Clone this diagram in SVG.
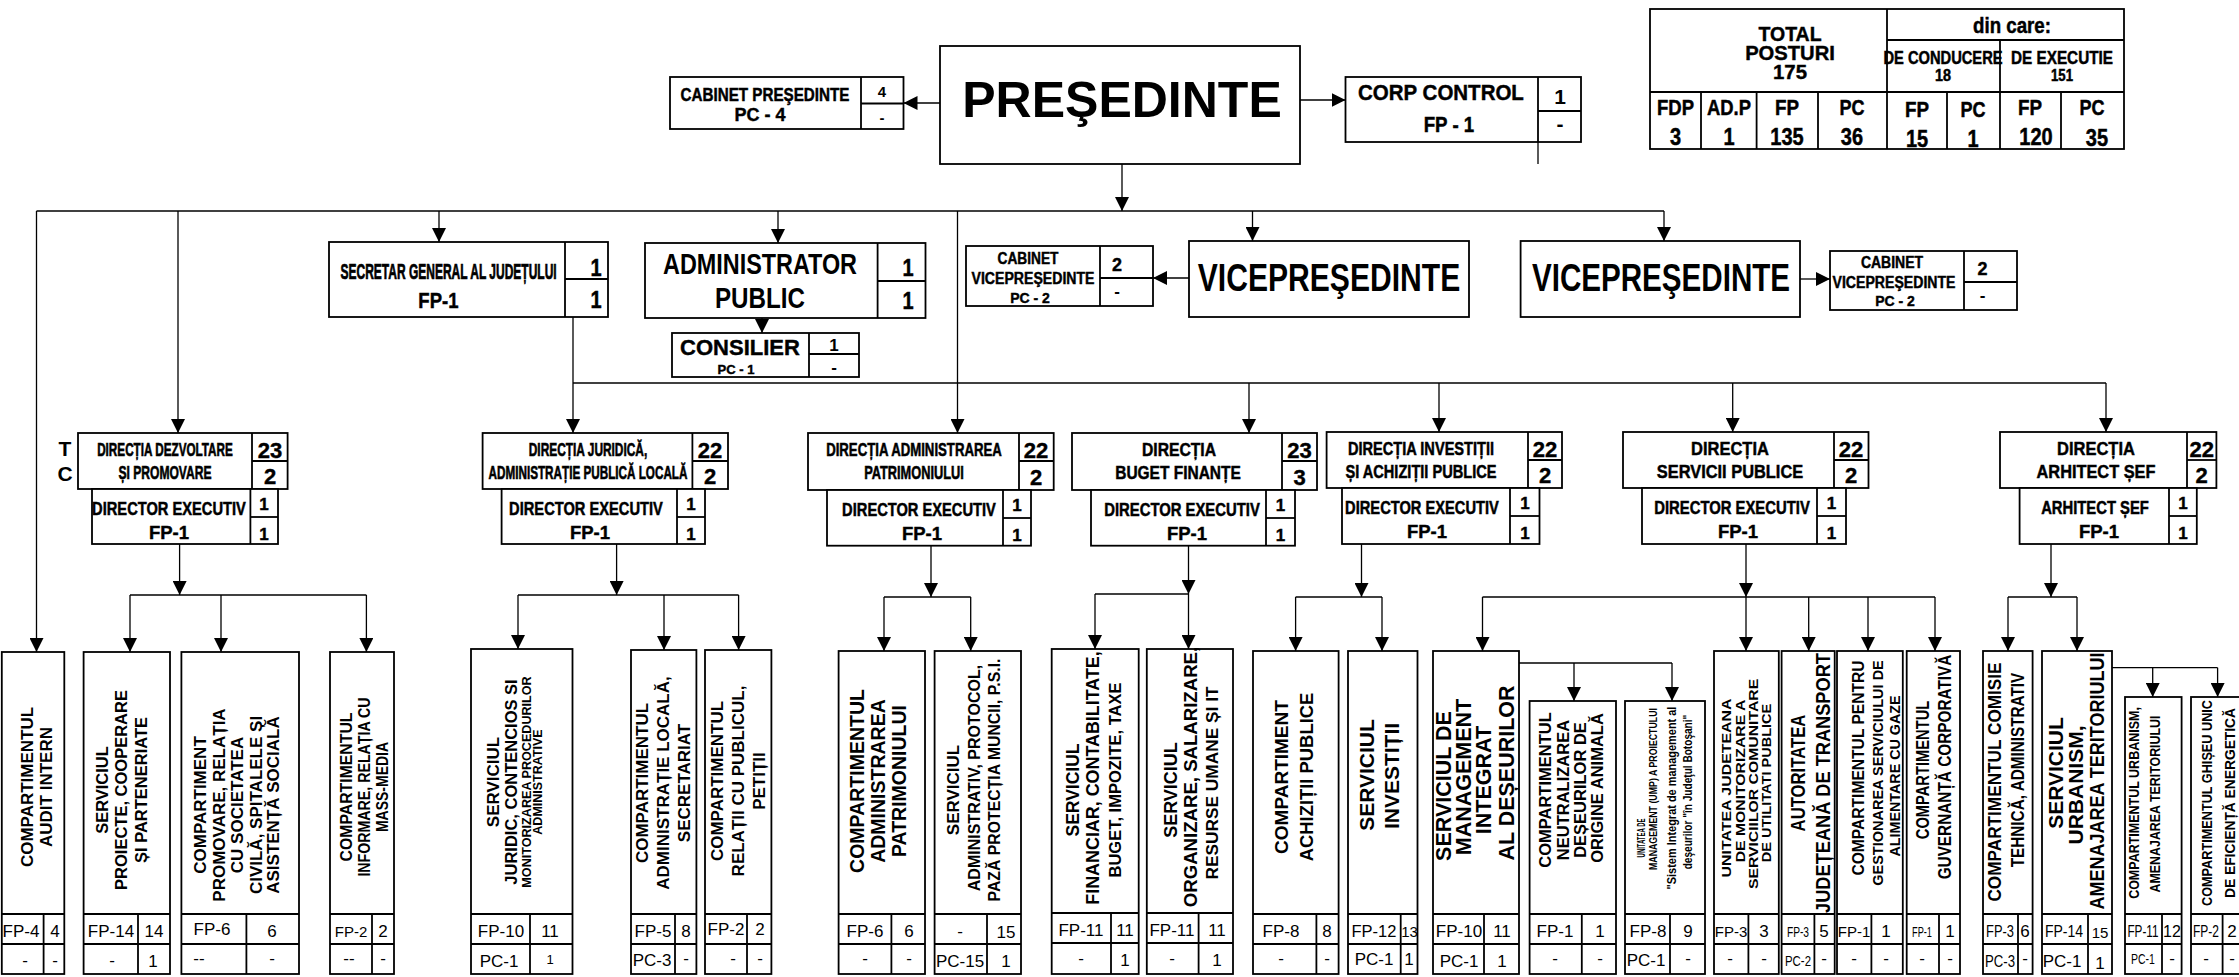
<svg xmlns="http://www.w3.org/2000/svg" width="2239" height="977" viewBox="0 0 2239 977" font-size="17">
<defs>
<marker id="ah" markerWidth="14" markerHeight="14" refX="14" refY="7" orient="auto" markerUnits="userSpaceOnUse"><path d="M0,0 L14,7 L0,14 z" fill="#000"/></marker>
<style>
.bx{fill:#fff;stroke:#000;stroke-width:1.8}
.ln{stroke:#000;stroke-width:1.8;fill:none}
.c{stroke:#000;stroke-width:1.3;fill:none}
.ca{stroke:#000;stroke-width:1.3;fill:none;marker-end:url(#ah)}
text{font-family:"Liberation Sans",Arial,sans-serif;fill:#000}
.b{font-weight:bold;text-anchor:middle}
.m{text-anchor:middle}
.k{stroke:#000;stroke-width:0.4}
.v{text-anchor:middle}
</style>
</defs>
<rect width="2239" height="977" fill="#fff"/>

<g id="connectors">
<line class="ca" x1="940" y1="103" x2="903.5" y2="103"/>
<line class="ca" x1="1300" y1="100" x2="1345.5" y2="100"/>
<line class="c" x1="1538" y1="142" x2="1538" y2="164"/>
<line class="ca" x1="1122" y1="164" x2="1122" y2="211"/>
<line class="c" x1="36.5" y1="211" x2="1664" y2="211"/>
<line class="ca" x1="36.5" y1="211" x2="36.5" y2="652"/>
<line class="ca" x1="178" y1="211" x2="178" y2="433"/>
<line class="ca" x1="439" y1="211" x2="439" y2="242"/>
<line class="ca" x1="778" y1="211" x2="778" y2="243"/>
<line class="ca" x1="957.5" y1="211" x2="957.5" y2="433"/>
<line class="ca" x1="1252.5" y1="211" x2="1252.5" y2="241"/>
<line class="ca" x1="1664" y1="211" x2="1664" y2="241"/>
<line class="ca" x1="1189" y1="278" x2="1153" y2="278"/>
<line class="ca" x1="1800" y1="279" x2="1830" y2="279"/>
<line class="ca" x1="762" y1="318" x2="762" y2="333"/>
<line class="ca" x1="573" y1="317" x2="573" y2="433"/>
<line class="c" x1="573" y1="383" x2="2106" y2="383"/>
<line class="ca" x1="1249" y1="383" x2="1249" y2="433"/>
<line class="ca" x1="1439" y1="383" x2="1439" y2="432"/>
<line class="ca" x1="1732.7" y1="383" x2="1732.7" y2="432"/>
<line class="ca" x1="2106" y1="383" x2="2106" y2="432"/>

<line class="ca" x1="179.6" y1="544" x2="179.6" y2="595"/>
<line class="c" x1="130" y1="595" x2="366.4" y2="595"/>
<line class="ca" x1="130" y1="595" x2="130" y2="652"/>
<line class="ca" x1="221" y1="595" x2="221" y2="652"/>
<line class="ca" x1="366.4" y1="595" x2="366.4" y2="652"/>

<line class="ca" x1="616.6" y1="544" x2="616.6" y2="595"/>
<line class="c" x1="518" y1="595" x2="738.6" y2="595"/>
<line class="ca" x1="518" y1="595" x2="518" y2="649"/>
<line class="ca" x1="664" y1="595" x2="664" y2="650"/>
<line class="ca" x1="738.6" y1="595" x2="738.6" y2="650"/>

<line class="ca" x1="931" y1="545.7" x2="931" y2="597"/>
<line class="c" x1="884" y1="597" x2="970.7" y2="597"/>
<line class="ca" x1="884" y1="597" x2="884" y2="651"/>
<line class="ca" x1="970.7" y1="597" x2="970.7" y2="651"/>

<line class="ca" x1="1188.5" y1="545.7" x2="1188.5" y2="594"/>
<line class="c" x1="1095" y1="594" x2="1188.5" y2="594"/>
<line class="ca" x1="1095" y1="594" x2="1095" y2="649"/>
<line class="ca" x1="1188.5" y1="594" x2="1188.5" y2="649"/>

<line class="ca" x1="1361.5" y1="544" x2="1361.5" y2="597"/>
<line class="c" x1="1295.6" y1="597" x2="1382" y2="597"/>
<line class="ca" x1="1295.6" y1="597" x2="1295.6" y2="651"/>
<line class="ca" x1="1382" y1="597" x2="1382" y2="651"/>

<line class="ca" x1="1746" y1="544" x2="1746" y2="597"/>
<line class="c" x1="1482.5" y1="597" x2="1935" y2="597"/>
<line class="ca" x1="1482.5" y1="597" x2="1482.5" y2="651"/>
<line class="ca" x1="1746" y1="597" x2="1746" y2="651"/>
<line class="ca" x1="1808.7" y1="597" x2="1808.7" y2="651"/>
<line class="ca" x1="1868" y1="597" x2="1868" y2="651"/>
<line class="ca" x1="1935" y1="597" x2="1935" y2="651"/>
<line class="c" x1="1519" y1="663" x2="1672" y2="663"/>
<line class="ca" x1="1574" y1="663" x2="1574" y2="701"/>
<line class="ca" x1="1672" y1="663" x2="1672" y2="701"/>

<line class="ca" x1="2051" y1="544" x2="2051" y2="597"/>
<line class="c" x1="2008" y1="597" x2="2077" y2="597"/>
<line class="ca" x1="2008" y1="597" x2="2008" y2="651"/>
<line class="ca" x1="2077" y1="597" x2="2077" y2="651"/>
<line class="c" x1="2112" y1="667.7" x2="2217.6" y2="667.7"/>
<line class="ca" x1="2152.7" y1="667.7" x2="2152.7" y2="697"/>
<line class="ca" x1="2217.6" y1="667.7" x2="2217.6" y2="697"/>
</g>

<g id="presedinte">
<rect class="bx" x="940" y="46" width="360" height="118"/>
<text class="b" x="1122" y="117" font-size="50">PREŞEDINTE</text>
</g>

<g id="cabinet-presedinte">
<rect class="bx" x="670" y="77" width="233.5" height="52"/>
<line class="ln" x1="861" y1="77" x2="861" y2="129"/>
<line class="ln" x1="861" y1="103.5" x2="903.5" y2="103.5"/>
<text class="b k" x="765" y="101" font-size="15.2" transform="matrix(1,0,0,1.25,0,-25.25)">CABINET PREŞEDINTE</text>
<text class="b k" x="760" y="121" font-size="18">PC - 4</text>
<text class="b" x="882" y="97" font-size="15">4</text>
<text class="b" x="882" y="123" font-size="15">-</text>
</g>

<g id="corp-control">
<rect class="bx" x="1345.5" y="77" width="235.5" height="65"/>
<line class="ln" x1="1538" y1="77" x2="1538" y2="142"/>
<line class="ln" x1="1538" y1="111" x2="1581" y2="111"/>
<text class="b k" x="1441" y="100" font-size="20.5" transform="matrix(1,0,0,1.073,0,-7.3)">CORP CONTROL</text>
<text class="b k" x="1449" y="132" font-size="18.7" transform="matrix(1,0,0,1.176,0,-23.23)">FP - 1</text>
<text class="b" x="1560" y="104" font-size="21">1</text>
<text class="b" x="1560" y="131" font-size="21">-</text>
</g>

<g id="total-posturi">
<rect class="bx" x="1650" y="9" width="474" height="140"/>
<line class="ln" x1="1887" y1="9" x2="1887" y2="149"/>
<line class="ln" x1="1887" y1="40" x2="2124" y2="40"/>
<line class="ln" x1="1650" y1="92" x2="2124" y2="92"/>
<line class="ln" x1="2000" y1="40" x2="2000" y2="149"/>
<line class="ln" x1="1701" y1="92" x2="1701" y2="149"/>
<line class="ln" x1="1756.6" y1="92" x2="1756.6" y2="149"/>
<line class="ln" x1="1818" y1="92" x2="1818" y2="149"/>
<line class="ln" x1="1947" y1="92" x2="1947" y2="149"/>
<line class="ln" x1="2061" y1="92" x2="2061" y2="149"/>
<text class="b k" x="1790" y="41" font-size="19.5" transform="matrix(1,0,0,1.077,0,-3.16)">TOTAL</text>
<text class="b k" x="1790" y="60" font-size="20.2" transform="matrix(1,0,0,1.04,0,-2.4)">POSTURI</text>
<text class="b k" x="1790" y="79" font-size="20.4">175</text>
<text class="b k" x="2012" y="33" font-size="18.7" transform="matrix(1,0,0,1.176,0,-5.81)">din care:</text>
<text class="b k" x="1943" y="64" font-size="14.7" transform="matrix(1,0,0,1.225,0,-14.4)">DE CONDUCERE</text>
<text class="b k" x="1943" y="81" font-size="14.4" transform="matrix(1,0,0,1.18,0,-14.58)">18</text>
<text class="b k" x="2062" y="64" font-size="15.3" transform="matrix(1,0,0,1.176,0,-11.26)">DE EXECUTIE</text>
<text class="b k" x="2062" y="81" font-size="13.2" transform="matrix(1,0,0,1.29,0,-23.49)">151</text>
<text class="b k" x="1675.5" y="115" font-size="18.5" transform="matrix(1,0,0,1.19,0,-21.85)">FDP</text>
<text class="b k" x="1729" y="115" font-size="18.4" transform="matrix(1,0,0,1.19,0,-21.85)">AD.P</text>
<text class="b k" x="1787" y="115" font-size="18.8" transform="matrix(1,0,0,1.19,0,-21.85)">FP</text>
<text class="b k" x="1852" y="115" font-size="18" transform="matrix(1,0,0,1.19,0,-21.85)">PC</text>
<text class="b k" x="1917" y="117" font-size="18.8" transform="matrix(1,0,0,1.19,0,-22.23)">FP</text>
<text class="b k" x="1973" y="117" font-size="18" transform="matrix(1,0,0,1.19,0,-22.23)">PC</text>
<text class="b k" x="2030" y="115" font-size="18.8" transform="matrix(1,0,0,1.19,0,-21.85)">FP</text>
<text class="b k" x="2092" y="115" font-size="18" transform="matrix(1,0,0,1.19,0,-21.85)">PC</text>
<text class="b k" x="1675.5" y="145" font-size="20" transform="matrix(1,0,0,1.2,0,-29)">3</text>
<text class="b k" x="1729" y="145" font-size="20" transform="matrix(1,0,0,1.2,0,-29)">1</text>
<text class="b k" x="1787" y="145" font-size="20" transform="matrix(1,0,0,1.2,0,-29)">135</text>
<text class="b k" x="1852" y="145" font-size="20" transform="matrix(1,0,0,1.2,0,-29)">36</text>
<text class="b k" x="1917" y="147" font-size="20" transform="matrix(1,0,0,1.2,0,-29.4)">15</text>
<text class="b k" x="1973" y="147" font-size="20" transform="matrix(1,0,0,1.2,0,-29.4)">1</text>
<text class="b k" x="2036" y="145" font-size="20" transform="matrix(1,0,0,1.2,0,-29)">120</text>
<text class="b k" x="2097" y="146" font-size="20" transform="matrix(1,0,0,1.2,0,-29.2)">35</text>
</g>

<g id="secretar-general">
<rect class="bx" x="329" y="242" width="279" height="75"/>
<line class="ln" x1="565" y1="242" x2="565" y2="317"/>
<line class="ln" x1="565" y1="279" x2="608" y2="279"/>
<text class="b k" x="448.6" y="279" font-size="12" transform="matrix(1,0,0,1.83,0,-231.57)">SECRETAR GENERAL  AL JUDEȚULUI</text>
<text class="b k" x="438.4" y="308" font-size="18.5" transform="matrix(1,0,0,1.19,0,-58.52)">FP-1</text>
<text class="b k" x="596" y="276" font-size="20" transform="matrix(1,0,0,1.2,0,-55.2)">1</text>
<text class="b k" x="596" y="308" font-size="20" transform="matrix(1,0,0,1.2,0,-61.6)">1</text>
</g>

<g id="administrator-public">
<rect class="bx" x="645" y="243" width="280.5" height="75"/>
<line class="ln" x1="877.6" y1="243" x2="877.6" y2="318"/>
<line class="ln" x1="877.6" y1="281" x2="925.5" y2="281"/>
<text class="b" x="760" y="274" font-size="23.4" transform="matrix(1,0,0,1.28,0,-76.72)">ADMINISTRATOR</text>
<text class="b" x="760" y="308" font-size="24.2" transform="matrix(1,0,0,1.24,0,-73.92)">PUBLIC</text>
<text class="b k" x="908" y="276" font-size="20" transform="matrix(1,0,0,1.2,0,-55.2)">1</text>
<text class="b k" x="908" y="309" font-size="20" transform="matrix(1,0,0,1.2,0,-61.8)">1</text>
</g>

<g id="consilier">
<rect class="bx" x="672" y="333" width="187" height="44"/>
<line class="ln" x1="809" y1="333" x2="809" y2="377"/>
<line class="ln" x1="809" y1="354" x2="859" y2="354"/>
<text class="b k" x="740" y="355" font-size="22">CONSILIER</text>
<text class="b k" x="736" y="374" font-size="13">PC - 1</text>
<text class="b" x="834" y="351" font-size="17">1</text>
<text class="b" x="834" y="373" font-size="17">-</text>
</g>

<g id="cabinet-vicepresedinte-1">
<rect class="bx" x="966" y="246" width="187" height="60"/>
<line class="ln" x1="1100" y1="246" x2="1100" y2="306"/>
<line class="ln" x1="1100" y1="278" x2="1153" y2="278"/>
<text class="b k" x="1028" y="264" font-size="13.7" transform="matrix(1,0,0,1.17,0,-44.88)">CABINET</text>
<text class="b k" x="1033" y="284" font-size="14.1" transform="matrix(1,0,0,1.135,0,-38.34)">VICEPREŞEDINTE</text>
<text class="b k" x="1030" y="303" font-size="14">PC - 2</text>
<text class="b k" x="1117" y="271" font-size="18">2</text>
<text class="b" x="1117" y="297" font-size="17">-</text>
</g>

<g id="vicepresedinte-1">
<rect class="bx" x="1189" y="241" width="280" height="76"/>
<text class="b" x="1329" y="291" font-size="30.1" transform="matrix(1,0,0,1.26,0,-75.66)">VICEPREŞEDINTE</text>
</g>

<g id="vicepresedinte-2">
<rect class="bx" x="1520.6" y="241" width="279.4" height="76"/>
<text class="b" x="1661" y="291" font-size="29.6" transform="matrix(1,0,0,1.28,0,-81.48)">VICEPREŞEDINTE</text>
</g>

<g id="cabinet-vicepresedinte-2">
<rect class="bx" x="1830" y="251" width="187" height="59"/>
<line class="ln" x1="1964" y1="251" x2="1964" y2="310"/>
<line class="ln" x1="1964" y1="282" x2="2017" y2="282"/>
<text class="b k" x="1892" y="268" font-size="14" transform="matrix(1,0,0,1.14,0,-37.52)">CABINET</text>
<text class="b k" x="1894" y="288" font-size="14.1" transform="matrix(1,0,0,1.135,0,-38.88)">VICEPREŞEDINTE</text>
<text class="b k" x="1895" y="306" font-size="14">PC - 2</text>
<text class="b k" x="1982.5" y="275" font-size="18">2</text>
<text class="b" x="1982.5" y="301" font-size="17">-</text>
</g>

<g id="directia-dezvoltare">
<text class="b" x="65" y="456" font-size="21">T</text>
<text class="b" x="65" y="481" font-size="21">C</text>
<rect class="bx" x="78" y="433" width="209.6" height="56"/>
<line class="ln" x1="252" y1="433" x2="252" y2="489"/>
<line class="ln" x1="252" y1="461" x2="287.6" y2="461"/>
<text class="b k" x="165" y="456" font-size="11.7" transform="matrix(1,0,0,1.62,0,-282.72)">DIRECȚIA DEZVOLTARE</text>
<text class="b k" x="165" y="479" font-size="12.1" transform="matrix(1,0,0,1.57,0,-273.03)">ȘI PROMOVARE</text>
<text class="b k" x="270" y="458" font-size="22">23</text>
<text class="b k" x="270" y="484" font-size="22">2</text>
<rect class="bx" x="92" y="489" width="186" height="55"/>
<line class="ln" x1="250.4" y1="489" x2="250.4" y2="544"/>
<line class="ln" x1="250.4" y1="517" x2="278" y2="517"/>
<text class="b k" x="169" y="515" font-size="14.67" transform="matrix(1,0,0,1.295,0,-151.93)">DIRECTOR EXECUTIV</text>
<text class="b k" x="169" y="539" font-size="18.5">FP-1</text>
<text class="b k" x="264" y="510" font-size="17">1</text>
<text class="b k" x="264" y="540" font-size="17">1</text>
</g>

<g id="directia-juridica">
<rect class="bx" x="482.6" y="433" width="245.4" height="56"/>
<line class="ln" x1="692.4" y1="433" x2="692.4" y2="489"/>
<line class="ln" x1="692.4" y1="461" x2="728" y2="461"/>
<text class="b k" x="588" y="456" font-size="11.9" transform="matrix(1,0,0,1.6,0,-273.6)">DIRECȚIA JURIDICĂ,</text>
<text class="b k" x="588" y="479" font-size="11.7" transform="matrix(1,0,0,1.62,0,-296.98)">ADMINISTRAȚIE PUBLICĂ LOCALĂ</text>
<text class="b k" x="710" y="458" font-size="22">22</text>
<text class="b k" x="710" y="484" font-size="22">2</text>
<rect class="bx" x="501.6" y="489" width="203.4" height="55"/>
<line class="ln" x1="677" y1="489" x2="677" y2="544"/>
<line class="ln" x1="677" y1="517" x2="705" y2="517"/>
<text class="b k" x="586" y="515" font-size="14.67" transform="matrix(1,0,0,1.295,0,-151.93)">DIRECTOR EXECUTIV</text>
<text class="b k" x="590" y="539" font-size="18.5">FP-1</text>
<text class="b k" x="691" y="510" font-size="17">1</text>
<text class="b k" x="691" y="540" font-size="17">1</text>
</g>

<g id="directia-patrimoniu">
<rect class="bx" x="808" y="433" width="245.7" height="57"/>
<line class="ln" x1="1019" y1="433" x2="1019" y2="490"/>
<line class="ln" x1="1019" y1="461" x2="1053.7" y2="461"/>
<text class="b k" x="914" y="456" font-size="13.2" transform="matrix(1,0,0,1.44,0,-200.64)">DIRECȚIA ADMINISTRAREA</text>
<text class="b k" x="914" y="479" font-size="12.8" transform="matrix(1,0,0,1.49,0,-234.71)">PATRIMONIULUI</text>
<text class="b k" x="1036" y="458" font-size="22">22</text>
<text class="b k" x="1036" y="485" font-size="22">2</text>
<rect class="bx" x="827" y="490" width="204" height="55.7"/>
<line class="ln" x1="1003" y1="490" x2="1003" y2="545.7"/>
<line class="ln" x1="1003" y1="518" x2="1031" y2="518"/>
<text class="b k" x="919" y="516" font-size="14.67" transform="matrix(1,0,0,1.295,0,-152.22)">DIRECTOR EXECUTIV</text>
<text class="b k" x="922" y="540" font-size="18.5">FP-1</text>
<text class="b k" x="1017" y="511" font-size="17">1</text>
<text class="b k" x="1017" y="541" font-size="17">1</text>
</g>

<g id="directia-buget">
<rect class="bx" x="1072" y="433" width="245" height="57"/>
<line class="ln" x1="1282" y1="433" x2="1282" y2="490"/>
<line class="ln" x1="1282" y1="461" x2="1317" y2="461"/>
<text class="b k" x="1179" y="456" font-size="15.7" transform="matrix(1,0,0,1.21,0,-95.76)">DIRECȚIA</text>
<text class="b k" x="1178" y="479" font-size="15.5" transform="matrix(1,0,0,1.22,0,-105.38)">BUGET FINANȚE</text>
<text class="b k" x="1299.5" y="458" font-size="22">23</text>
<text class="b k" x="1299.5" y="485" font-size="22">3</text>
<rect class="bx" x="1091" y="490" width="204" height="55.7"/>
<line class="ln" x1="1266" y1="490" x2="1266" y2="545.7"/>
<line class="ln" x1="1266" y1="518" x2="1295" y2="518"/>
<text class="b k" x="1182" y="516" font-size="14.86" transform="matrix(1,0,0,1.28,0,-144.48)">DIRECTOR EXECUTIV</text>
<text class="b k" x="1187" y="540" font-size="18.5">FP-1</text>
<text class="b k" x="1280.5" y="511" font-size="17">1</text>
<text class="b k" x="1280.5" y="541" font-size="17">1</text>
</g>

<g id="directia-investitii">
<rect class="bx" x="1326.6" y="432" width="235.4" height="56"/>
<line class="ln" x1="1528" y1="432" x2="1528" y2="488"/>
<line class="ln" x1="1528" y1="460" x2="1562" y2="460"/>
<text class="b k" x="1421" y="455" font-size="14.6" transform="matrix(1,0,0,1.3,0,-136.5)">DIRECȚIA INVESTIȚII</text>
<text class="b k" x="1421" y="478" font-size="14.6" transform="matrix(1,0,0,1.3,0,-143.4)">ȘI ACHIZIȚII PUBLICE</text>
<text class="b k" x="1545" y="457" font-size="22">22</text>
<text class="b k" x="1545" y="483" font-size="22">2</text>
<rect class="bx" x="1342" y="488" width="197.5" height="56"/>
<line class="ln" x1="1510" y1="488" x2="1510" y2="544"/>
<line class="ln" x1="1510" y1="516" x2="1539.5" y2="516"/>
<text class="b k" x="1422" y="514" font-size="14.67" transform="matrix(1,0,0,1.295,0,-151.63)">DIRECTOR EXECUTIV</text>
<text class="b k" x="1427" y="538" font-size="18.5">FP-1</text>
<text class="b k" x="1525" y="509" font-size="17">1</text>
<text class="b k" x="1525" y="539" font-size="17">1</text>
</g>

<g id="directia-servicii-publice">
<rect class="bx" x="1623" y="432" width="245.5" height="56"/>
<line class="ln" x1="1834" y1="432" x2="1834" y2="488"/>
<line class="ln" x1="1834" y1="460" x2="1868.5" y2="460"/>
<text class="b k" x="1730" y="455" font-size="16.5" transform="matrix(1,0,0,1.15,0,-68.25)">DIRECȚIA</text>
<text class="b k" x="1730" y="478" font-size="16.4" transform="matrix(1,0,0,1.16,0,-76.48)">SERVICII PUBLICE</text>
<text class="b k" x="1851" y="457" font-size="22">22</text>
<text class="b k" x="1851" y="483" font-size="22">2</text>
<rect class="bx" x="1642" y="488" width="204" height="56"/>
<line class="ln" x1="1817" y1="488" x2="1817" y2="544"/>
<line class="ln" x1="1817" y1="516" x2="1846" y2="516"/>
<text class="b k" x="1732" y="514" font-size="14.86" transform="matrix(1,0,0,1.28,0,-143.92)">DIRECTOR EXECUTIV</text>
<text class="b k" x="1738" y="538" font-size="18.5">FP-1</text>
<text class="b k" x="1831.5" y="509" font-size="17">1</text>
<text class="b k" x="1831.5" y="539" font-size="17">1</text>
</g>

<g id="directia-arhitect-sef">
<rect class="bx" x="2000" y="432" width="216.4" height="56"/>
<line class="ln" x1="2187" y1="432" x2="2187" y2="488"/>
<line class="ln" x1="2187" y1="460" x2="2216.4" y2="460"/>
<text class="b k" x="2096" y="455" font-size="16.5" transform="matrix(1,0,0,1.15,0,-68.25)">DIRECȚIA</text>
<text class="b k" x="2096" y="478" font-size="16.35" transform="matrix(1,0,0,1.16,0,-76.48)">ARHITECT ȘEF</text>
<text class="b k" x="2201.7" y="457" font-size="22">22</text>
<text class="b k" x="2201.7" y="483" font-size="22">2</text>
<rect class="bx" x="2019.6" y="488" width="177.2" height="56"/>
<line class="ln" x1="2169" y1="488" x2="2169" y2="544"/>
<line class="ln" x1="2169" y1="516" x2="2196.8" y2="516"/>
<text class="b k" x="2095" y="514" font-size="14.8" transform="matrix(1,0,0,1.28,0,-143.92)">ARHITECT ȘEF</text>
<text class="b k" x="2099" y="538" font-size="18.5">FP-1</text>
<text class="b k" x="2183" y="509" font-size="17">1</text>
<text class="b k" x="2183" y="539" font-size="17">1</text>
</g>

<g id="audit-intern">
<rect class="bx" x="1.8" y="652" width="62.5" height="322"/>
<line class="ln" x1="1.8" y1="914" x2="64.3" y2="914"/><line class="ln" x1="1.8" y1="944" x2="64.3" y2="944"/><line class="ln" x1="43.6" y1="914" x2="43.6" y2="974"/>
<text class="b" font-size="17" transform="translate(33,787) rotate(-90)">COMPARTIMENTUL</text>
<text class="b" font-size="17" transform="translate(52,787) rotate(-90)">AUDIT INTERN</text>
<text class="v" x="21" y="937">FP-4</text><text class="v" x="55" y="937">4</text>
<text class="v" x="25" y="966">-</text><text class="v" x="55" y="966">-</text>
</g>

<g id="serviciul-proiecte">
<rect class="bx" x="83.6" y="652" width="86.4" height="322"/>
<line class="ln" x1="83.6" y1="914" x2="170" y2="914"/><line class="ln" x1="83.6" y1="944" x2="170" y2="944"/><line class="ln" x1="138" y1="914" x2="138" y2="974"/>
<text class="b" font-size="16.5" transform="translate(108,790) rotate(-90)">SERVICIUL</text>
<text class="b" font-size="16.5" transform="translate(127,790) rotate(-90)">PROIECTE, COOPERARE</text>
<text class="b" font-size="16.5" transform="translate(147,790) rotate(-90)">ȘI PARTENERIATE</text>
<text class="v" x="111" y="937">FP-14</text><text class="v" x="154" y="937">14</text>
<text class="v" x="112" y="966">-</text><text class="v" x="153" y="967">1</text>
</g>

<g id="compartiment-promovare">
<rect class="bx" x="181.4" y="652" width="117.6" height="322"/>
<line class="ln" x1="181.4" y1="914" x2="299" y2="914"/><line class="ln" x1="181.4" y1="944" x2="299" y2="944"/><line class="ln" x1="246.4" y1="914" x2="246.4" y2="974"/>
<text class="b" font-size="17" transform="translate(206,805) rotate(-90)">COMPARTIMENT</text>
<text class="b" font-size="17" transform="translate(225,805) rotate(-90)">PROMOVARE, RELAȚIA</text>
<text class="b" font-size="17" transform="translate(243,805) rotate(-90)">CU SOCIETATEA</text>
<text class="b" font-size="17" transform="translate(262,805) rotate(-90)">CIVILĂ, SPITALELE ȘI</text>
<text class="b" font-size="17" transform="translate(279,805) rotate(-90)">ASISTENȚĂ  SOCIALĂ</text>
<text class="v" x="212" y="935">FP-6</text><text class="v" x="272" y="937">6</text>
<text class="v" x="199" y="964">--</text><text class="v" x="272" y="964">-</text>
</g>

<g id="compartimentul-informare">
<rect class="bx" x="330" y="652" width="64" height="322"/>
<line class="ln" x1="330" y1="914" x2="394" y2="914"/><line class="ln" x1="330" y1="944" x2="394" y2="944"/><line class="ln" x1="372" y1="914" x2="372" y2="974"/>
<text class="b" font-size="15.8" transform="translate(352,787) rotate(-90)">COMPARTIMENTUL</text>
<text class="b" font-size="14.2" transform="translate(370,787) rotate(-90) scale(1,1.13)">INFORMARE, RELAȚIA CU</text>
<text class="b" font-size="14" transform="translate(388,787) rotate(-90) scale(1,1.14)">MASS-MEDIA</text>
<text class="v" x="351" y="937" font-size="15">FP-2</text><text class="v" x="383" y="937">2</text>
<text class="v" x="349" y="964">--</text><text class="v" x="383" y="964">-</text>
</g>

<g id="serviciul-juridic">
<rect class="bx" x="471" y="649" width="101.5" height="325"/>
<line class="ln" x1="471" y1="914" x2="572.5" y2="914"/><line class="ln" x1="471" y1="944" x2="572.5" y2="944"/><line class="ln" x1="530" y1="914" x2="530" y2="974"/>
<text class="b" font-size="17" transform="translate(499,782) rotate(-90)">SERVICIUL</text>
<text class="b" font-size="16.5" transform="translate(517,782) rotate(-90)">JURIDIC, CONTENCIOS SI</text>
<text class="b" font-size="12.6" transform="translate(530.5,782) rotate(-90)">MONITORIZAREA PROCEDURILOR</text>
<text class="b" font-size="12.5" transform="translate(541.5,782) rotate(-90)">ADMINISTRATIVE</text>
<text class="v" x="501" y="937">FP-10</text><text class="v" x="550" y="937">11</text>
<text class="v" x="499" y="967">PC-1</text><text class="v" x="550" y="964" font-size="13">1</text>
</g>

<g id="compartimentul-administratie-locala">
<rect class="bx" x="631" y="650" width="65.4" height="324"/>
<line class="ln" x1="631" y1="914" x2="696.4" y2="914"/><line class="ln" x1="631" y1="944" x2="696.4" y2="944"/><line class="ln" x1="675" y1="914" x2="675" y2="974"/>
<text class="b" font-size="17" transform="translate(648,783) rotate(-90)">COMPARTIMENTUL</text>
<text class="b" font-size="17" transform="translate(669,783) rotate(-90)">ADMINISTRAȚIE LOCALĂ,</text>
<text class="b" font-size="17" transform="translate(690,783) rotate(-90)">SECRETARIAT</text>
<text class="v" x="653" y="937">FP-5</text><text class="v" x="686" y="937">8</text>
<text class="v" x="652" y="966">PC-3</text><text class="v" x="686" y="964">-</text>
</g>

<g id="compartimentul-relatii">
<rect class="bx" x="705" y="650" width="66.4" height="324"/>
<line class="ln" x1="705" y1="914" x2="771.4" y2="914"/><line class="ln" x1="705" y1="944" x2="771.4" y2="944"/><line class="ln" x1="747" y1="914" x2="747" y2="974"/>
<text class="b" font-size="17" transform="translate(723,781) rotate(-90)">COMPARTIMENTUL</text>
<text class="b" font-size="17" transform="translate(744,781) rotate(-90)">RELAȚII CU PUBLICUL,</text>
<text class="b" font-size="17" transform="translate(765,781) rotate(-90)">PETIȚII</text>
<text class="v" x="726" y="935">FP-2</text><text class="v" x="760" y="935">2</text>
<text class="v" x="733" y="964">-</text><text class="v" x="760" y="964">-</text>
</g>

<g id="compartimentul-administrarea-patrimoniului">
<rect class="bx" x="838.6" y="651" width="86.4" height="323"/>
<line class="ln" x1="838.6" y1="914" x2="925" y2="914"/><line class="ln" x1="838.6" y1="944" x2="925" y2="944"/><line class="ln" x1="891.4" y1="914" x2="891.4" y2="974"/>
<text class="b" font-size="19.5" transform="translate(864,781) rotate(-90)">COMPARTIMENTUL</text>
<text class="b" font-size="19.5" transform="translate(885,781) rotate(-90)">ADMINISTRAREA</text>
<text class="b" font-size="19.5" transform="translate(906,781) rotate(-90)">PATRIMONIULUI</text>
<text class="v" x="865" y="937">FP-6</text><text class="v" x="909" y="937">6</text>
<text class="v" x="865" y="964">-</text><text class="v" x="909" y="964">-</text>
</g>

<g id="serviciul-administrativ">
<rect class="bx" x="934.6" y="651" width="86.4" height="323"/>
<line class="ln" x1="934.6" y1="914" x2="1021" y2="914"/><line class="ln" x1="934.6" y1="944" x2="1021" y2="944"/><line class="ln" x1="987" y1="914" x2="987" y2="974"/>
<text class="b" font-size="17" transform="translate(959,790) rotate(-90)">SERVICIUL</text>
<text class="b" font-size="16" transform="translate(980,778) rotate(-90)">ADMINISTRATIV, PROTOCOL,</text>
<text class="b" font-size="15.8" transform="translate(1000,780) rotate(-90)">PAZĂ PROTECȚIA MUNCII, P.S.I.</text>
<text class="v" x="960" y="937">-</text><text class="v" x="1006" y="938">15</text>
<text class="v" x="960" y="967">PC-15</text><text class="v" x="1006" y="967">1</text>
</g>

<g id="serviciul-financiar">
<rect class="bx" x="1051.7" y="649" width="87" height="325"/>
<line class="ln" x1="1051.7" y1="913" x2="1138.7" y2="913"/><line class="ln" x1="1051.7" y1="943" x2="1138.7" y2="943"/><line class="ln" x1="1111" y1="913" x2="1111" y2="974"/>
<text class="b" font-size="17.5" transform="translate(1079,790) rotate(-90)">SERVICIUL</text>
<text class="b" font-size="17.9" transform="translate(1099,778) rotate(-90)">FINANCIAR, CONTABILITATE,</text>
<text class="b" font-size="16.5" transform="translate(1121,780) rotate(-90)">BUGET, IMPOZITE, TAXE</text>
<text class="v" x="1081" y="936">FP-11</text><text class="v" x="1125" y="936">11</text>
<text class="v" x="1081" y="964">-</text><text class="v" x="1125" y="966">1</text>
</g>

<g id="serviciul-organizare">
<rect class="bx" x="1146.8" y="649" width="86.2" height="325"/>
<line class="ln" x1="1146.8" y1="913" x2="1233" y2="913"/><line class="ln" x1="1146.8" y1="943" x2="1233" y2="943"/><line class="ln" x1="1198.6" y1="913" x2="1198.6" y2="974"/>
<text class="b" font-size="18" transform="translate(1176.5,790) rotate(-90)">SERVICIUL</text>
<text class="b" font-size="18.6" transform="translate(1196.5,777) rotate(-90)">ORGANIZARE, SALARIZARE,</text>
<text class="b" font-size="17.3" transform="translate(1217.5,783) rotate(-90)">RESURSE UMANE ȘI IT</text>
<text class="v" x="1172" y="936">FP-11</text><text class="v" x="1217" y="936">11</text>
<text class="v" x="1172" y="964">-</text><text class="v" x="1217" y="966">1</text>
</g>

<g id="compartiment-achizitii">
<rect class="bx" x="1253" y="651" width="85.6" height="323"/>
<line class="ln" x1="1253" y1="914" x2="1338.6" y2="914"/><line class="ln" x1="1253" y1="944" x2="1338.6" y2="944"/><line class="ln" x1="1316.4" y1="914" x2="1316.4" y2="974"/>
<text class="b" font-size="19" transform="translate(1288,777) rotate(-90)">COMPARTIMENT</text>
<text class="b" font-size="18.4" transform="translate(1313,777) rotate(-90)">ACHIZIȚII PUBLICE</text>
<text class="v" x="1281" y="937">FP-8</text><text class="v" x="1327" y="937">8</text>
<text class="v" x="1281" y="964">-</text><text class="v" x="1327" y="964">-</text>
</g>

<g id="serviciul-investitii">
<rect class="bx" x="1348" y="651" width="69.5" height="323"/>
<line class="ln" x1="1348" y1="914" x2="1417.5" y2="914"/><line class="ln" x1="1348" y1="944" x2="1417.5" y2="944"/><line class="ln" x1="1400.7" y1="914" x2="1400.7" y2="974"/>
<text class="b" font-size="21" transform="translate(1373.5,775) rotate(-90)">SERVICIUL</text>
<text class="b" font-size="21" transform="translate(1398.5,776) rotate(-90)">INVESTIȚII</text>
<text class="v" x="1374" y="937" font-size="16.5">FP-12</text><text class="v" x="1409.5" y="937" font-size="15">13</text>
<text class="v" x="1374" y="965">PC-1</text><text class="v" x="1409" y="965">1</text>
</g>

<g id="serviciul-management-deseuri">
<rect class="bx" x="1433" y="651" width="86" height="323"/>
<line class="ln" x1="1433" y1="914" x2="1519" y2="914"/><line class="ln" x1="1433" y1="944" x2="1519" y2="944"/><line class="ln" x1="1484" y1="914" x2="1484" y2="974"/>
<text class="b" font-size="21.5" transform="translate(1451,786) rotate(-90)">SERVICIUL DE</text>
<text class="b" font-size="21.5" transform="translate(1471,777) rotate(-90)">MANAGEMENT</text>
<text class="b" font-size="21.5" transform="translate(1491,780) rotate(-90)">INTEGRAT</text>
<text class="b" font-size="21.5" transform="translate(1514,773) rotate(-90)">AL DEȘEURILOR</text>
<text class="v" x="1459" y="937">FP-10</text><text class="v" x="1502" y="937">11</text>
<text class="v" x="1459" y="967">PC-1</text><text class="v" x="1502" y="967">1</text>
</g>

<g id="compartimentul-neutralizarea">
<rect class="bx" x="1529.6" y="701" width="86.4" height="273"/>
<line class="ln" x1="1529.6" y1="914" x2="1616" y2="914"/><line class="ln" x1="1529.6" y1="944" x2="1616" y2="944"/><line class="ln" x1="1581.8" y1="914" x2="1581.8" y2="974"/>
<text class="b" font-size="16.5" transform="translate(1551,790) rotate(-90)">COMPARTIMENTUL</text>
<text class="b" font-size="16.5" transform="translate(1569,790) rotate(-90)">NEUTRALIZAREA</text>
<text class="b" font-size="16.5" transform="translate(1586,790) rotate(-90)">DEȘEURILOR DE</text>
<text class="b" font-size="16.5" transform="translate(1603,788) rotate(-90)">ORIGINE ANIMALĂ</text>
<text class="v" x="1555" y="937">FP-1</text><text class="v" x="1600" y="937">1</text>
<text class="v" x="1555" y="964">-</text><text class="v" x="1600" y="964">-</text>
</g>

<g id="unitatea-ump">
<rect class="bx" x="1625" y="701" width="80" height="273"/>
<line class="ln" x1="1625" y1="914" x2="1705" y2="914"/><line class="ln" x1="1625" y1="944" x2="1705" y2="944"/><line class="ln" x1="1670" y1="914" x2="1670" y2="974"/>
<text class="b" font-size="5.95" transform="translate(1645,838) rotate(-90) scale(1,1.85)">UNITATEA DE</text>
<text class="b" font-size="8.8" transform="translate(1657,789) rotate(-90) scale(1,1.25)">MANAGEMENT (UMP) A PROIECTULUI</text>
<text class="b" font-size="10.96" transform="translate(1676,798) rotate(-90) scale(1,1.19)">"Sistem Integrat de management al</text>
<text class="b" font-size="10.1" transform="translate(1692,792) rotate(-90) scale(1,1.29)">deşeurilor "în Judeţul Botoşani"</text>
<text class="v" x="1648" y="937">FP-8</text><text class="v" x="1688" y="937">9</text>
<text class="v" x="1646" y="966">PC-1</text><text class="v" x="1688" y="964">-</text>
</g>

<g id="unitatea-judeteana">
<rect class="bx" x="1714" y="651" width="64.8" height="323"/>
<line class="ln" x1="1714" y1="914" x2="1778.8" y2="914"/><line class="ln" x1="1714" y1="944" x2="1778.8" y2="944"/><line class="ln" x1="1748.4" y1="914" x2="1748.4" y2="974"/>
<text class="b" font-size="15.9" transform="translate(1731,788) rotate(-90) scale(1,0.85)">UNITATEA JUDETEANA</text>
<text class="b" font-size="15.75" transform="translate(1745,781) rotate(-90) scale(1,0.857)">DE MONITORIZARE  A</text>
<text class="b" font-size="15.77" transform="translate(1758,784) rotate(-90) scale(1,0.856)">SERVICIILOR COMUNITARE</text>
<text class="b" font-size="14.56" transform="translate(1771,783) rotate(-90) scale(1,0.927)">DE UTILITATI PUBLICE</text>
<text class="v" x="1731" y="937" font-size="15">FP-3</text><text class="v" x="1764" y="937">3</text>
<text class="v" x="1730" y="964">-</text><text class="v" x="1764" y="964">-</text>
</g>

<g id="autoritatea-transport">
<rect class="bx" x="1781.6" y="651" width="53.1" height="323"/>
<line class="ln" x1="1781.6" y1="914" x2="1834.7" y2="914"/><line class="ln" x1="1781.6" y1="944" x2="1834.7" y2="944"/><line class="ln" x1="1814.4" y1="914" x2="1814.4" y2="974"/>
<text class="b" font-size="16.7" transform="translate(1805,773) rotate(-90) scale(1,1.2)">AUTORITATEA</text>
<text class="b" font-size="18.2" transform="translate(1830,783) rotate(-90) scale(1,1.1)">JUDEȚEANĂ DE TRANSPORT</text>
<text class="v" x="1798" y="937" font-size="10.2" transform="matrix(1,0,0,1.47,0,-440.39)">FP-3</text><text class="v" x="1824" y="937">5</text>
<text class="v" x="1798" y="966" font-size="11.4" transform="matrix(1,0,0,1.3,0,-289.8)">PC-2</text><text class="v" x="1824" y="964">-</text>
</g>

<g id="compartimentul-gaze">
<rect class="bx" x="1837" y="651" width="65.8" height="323"/>
<line class="ln" x1="1837" y1="914" x2="1902.8" y2="914"/><line class="ln" x1="1837" y1="944" x2="1902.8" y2="944"/><line class="ln" x1="1871.4" y1="914" x2="1871.4" y2="974"/>
<text class="b" font-size="15.6" transform="translate(1863.5,768) rotate(-90)">COMPARTIMENTUL PENTRU</text>
<text class="b" font-size="14.5" transform="translate(1882.5,773) rotate(-90)">GESTIONAREA SERVICIULUI DE</text>
<text class="b" font-size="14.3" transform="translate(1899.5,776) rotate(-90)">ALIMENTARE CU GAZE</text>
<text class="v" x="1854" y="937" font-size="15">FP-1</text><text class="v" x="1886" y="937">1</text>
<text class="v" x="1854" y="964">-</text><text class="v" x="1886" y="964">-</text>
</g>

<g id="compartimentul-guvernanta">
<rect class="bx" x="1906.7" y="651" width="53.3" height="323"/>
<line class="ln" x1="1906.7" y1="914" x2="1960" y2="914"/><line class="ln" x1="1906.7" y1="944" x2="1960" y2="944"/><line class="ln" x1="1939" y1="914" x2="1939" y2="974"/>
<text class="b" font-size="14.7" transform="translate(1929,770) rotate(-90) scale(1,1.29)">COMPARTIMENTUL</text>
<text class="b" font-size="15.35" transform="translate(1951,767) rotate(-90) scale(1,1.24)">GUVERNANȚĂ CORPORATIVĂ</text>
<text class="v" x="1922" y="937" font-size="9.2" transform="matrix(1,0,0,1.63,0,-590.31)">FP-1</text><text class="v" x="1950" y="937">1</text>
<text class="v" x="1922" y="964">-</text><text class="v" x="1950" y="964">-</text>
</g>

<g id="compartimentul-comisie-tehnica">
<rect class="bx" x="1983" y="651" width="49.6" height="323"/>
<line class="ln" x1="1983" y1="914" x2="2032.6" y2="914"/><line class="ln" x1="1983" y1="944" x2="2032.6" y2="944"/><line class="ln" x1="2018" y1="914" x2="2018" y2="974"/>
<text class="b" font-size="17.2" transform="translate(2001,782) rotate(-90) scale(1,1.1)">COMPARTIMENTUL COMISIE</text>
<text class="b" font-size="15.3" transform="translate(2024,770) rotate(-90) scale(1,1.24)">TEHNICĂ, ADMINISTRATIV</text>
<text class="v" x="2000" y="937" font-size="12.9" transform="matrix(1,0,0,1.24,0,-224.88)">FP-3</text><text class="v" x="2025" y="937">6</text>
<text class="v" x="2000" y="967" font-size="13.2" transform="matrix(1,0,0,1.2,0,-193.4)">PC-3</text><text class="v" x="2025" y="964">-</text>
</g>

<g id="serviciul-urbanism">
<rect class="bx" x="2042" y="651" width="70" height="323"/>
<line class="ln" x1="2042" y1="914" x2="2112" y2="914"/><line class="ln" x1="2042" y1="944" x2="2112" y2="944"/><line class="ln" x1="2088" y1="914" x2="2088" y2="974"/>
<text class="b" font-size="21" transform="translate(2063,773) rotate(-90)">SERVICIUL</text>
<text class="b" font-size="21" transform="translate(2083,785) rotate(-90)">URBANISM,</text>
<text class="b" font-size="18" transform="translate(2104,781) rotate(-90) scale(1,1.11)">AMENAJAREA TERITORIULUI</text>
<text class="v" x="2064" y="937" font-size="14" transform="matrix(1,0,0,1.14,0,-131.18)">FP-14</text><text class="v" x="2100" y="938" font-size="15">15</text>
<text class="v" x="2062" y="967">PC-1</text><text class="v" x="2100" y="969">1</text>
</g>

<g id="compartimentul-urbanism">
<rect class="bx" x="2125" y="697" width="56.6" height="277"/>
<line class="ln" x1="2125" y1="914" x2="2181.6" y2="914"/><line class="ln" x1="2125" y1="944" x2="2181.6" y2="944"/><line class="ln" x1="2162" y1="914" x2="2162" y2="974"/>
<text class="b" font-size="12.5" transform="translate(2138.5,803) rotate(-90) scale(1,1.2)">COMPARTIMENTUL URBANISM,</text>
<text class="b" font-size="12.4" transform="translate(2159.5,804) rotate(-90) scale(1,1.21)">AMENAJAREA TERITORIULUI</text>
<text class="v" x="2143" y="937" font-size="11.75" transform="matrix(1,0,0,1.36,0,-337.32)">FP-11</text><text class="v" x="2172" y="937" font-size="16">12</text>
<text class="v" x="2143" y="964" font-size="10.5" transform="matrix(1,0,0,1.43,0,-414.52)">PC-1</text><text class="v" x="2172" y="964">-</text>
</g>

<g id="compartimentul-ghiseu-unic">
<rect class="bx" x="2191" y="697" width="56" height="277"/>
<line class="ln" x1="2191" y1="914" x2="2247" y2="914"/><line class="ln" x1="2191" y1="944" x2="2247" y2="944"/><line class="ln" x1="2222.6" y1="914" x2="2222.6" y2="974"/>
<text class="b" font-size="12.7" transform="translate(2211.5,803) rotate(-90) scale(1,1.18)">COMPARTIMENTUL GHIȘEU UNIC</text>
<text class="b" font-size="13.8" transform="translate(2234.5,803) rotate(-90) scale(1,1.09)">DE EFICIENȚĂ ENERGETICĂ</text>
<text class="v" x="2206" y="937" font-size="12" transform="matrix(1,0,0,1.33,0,-309.21)">FP-2</text><text class="v" x="2232" y="937">2</text>
<text class="v" x="2206" y="964">-</text><text class="v" x="2232" y="964">-</text>
</g>
</svg>
